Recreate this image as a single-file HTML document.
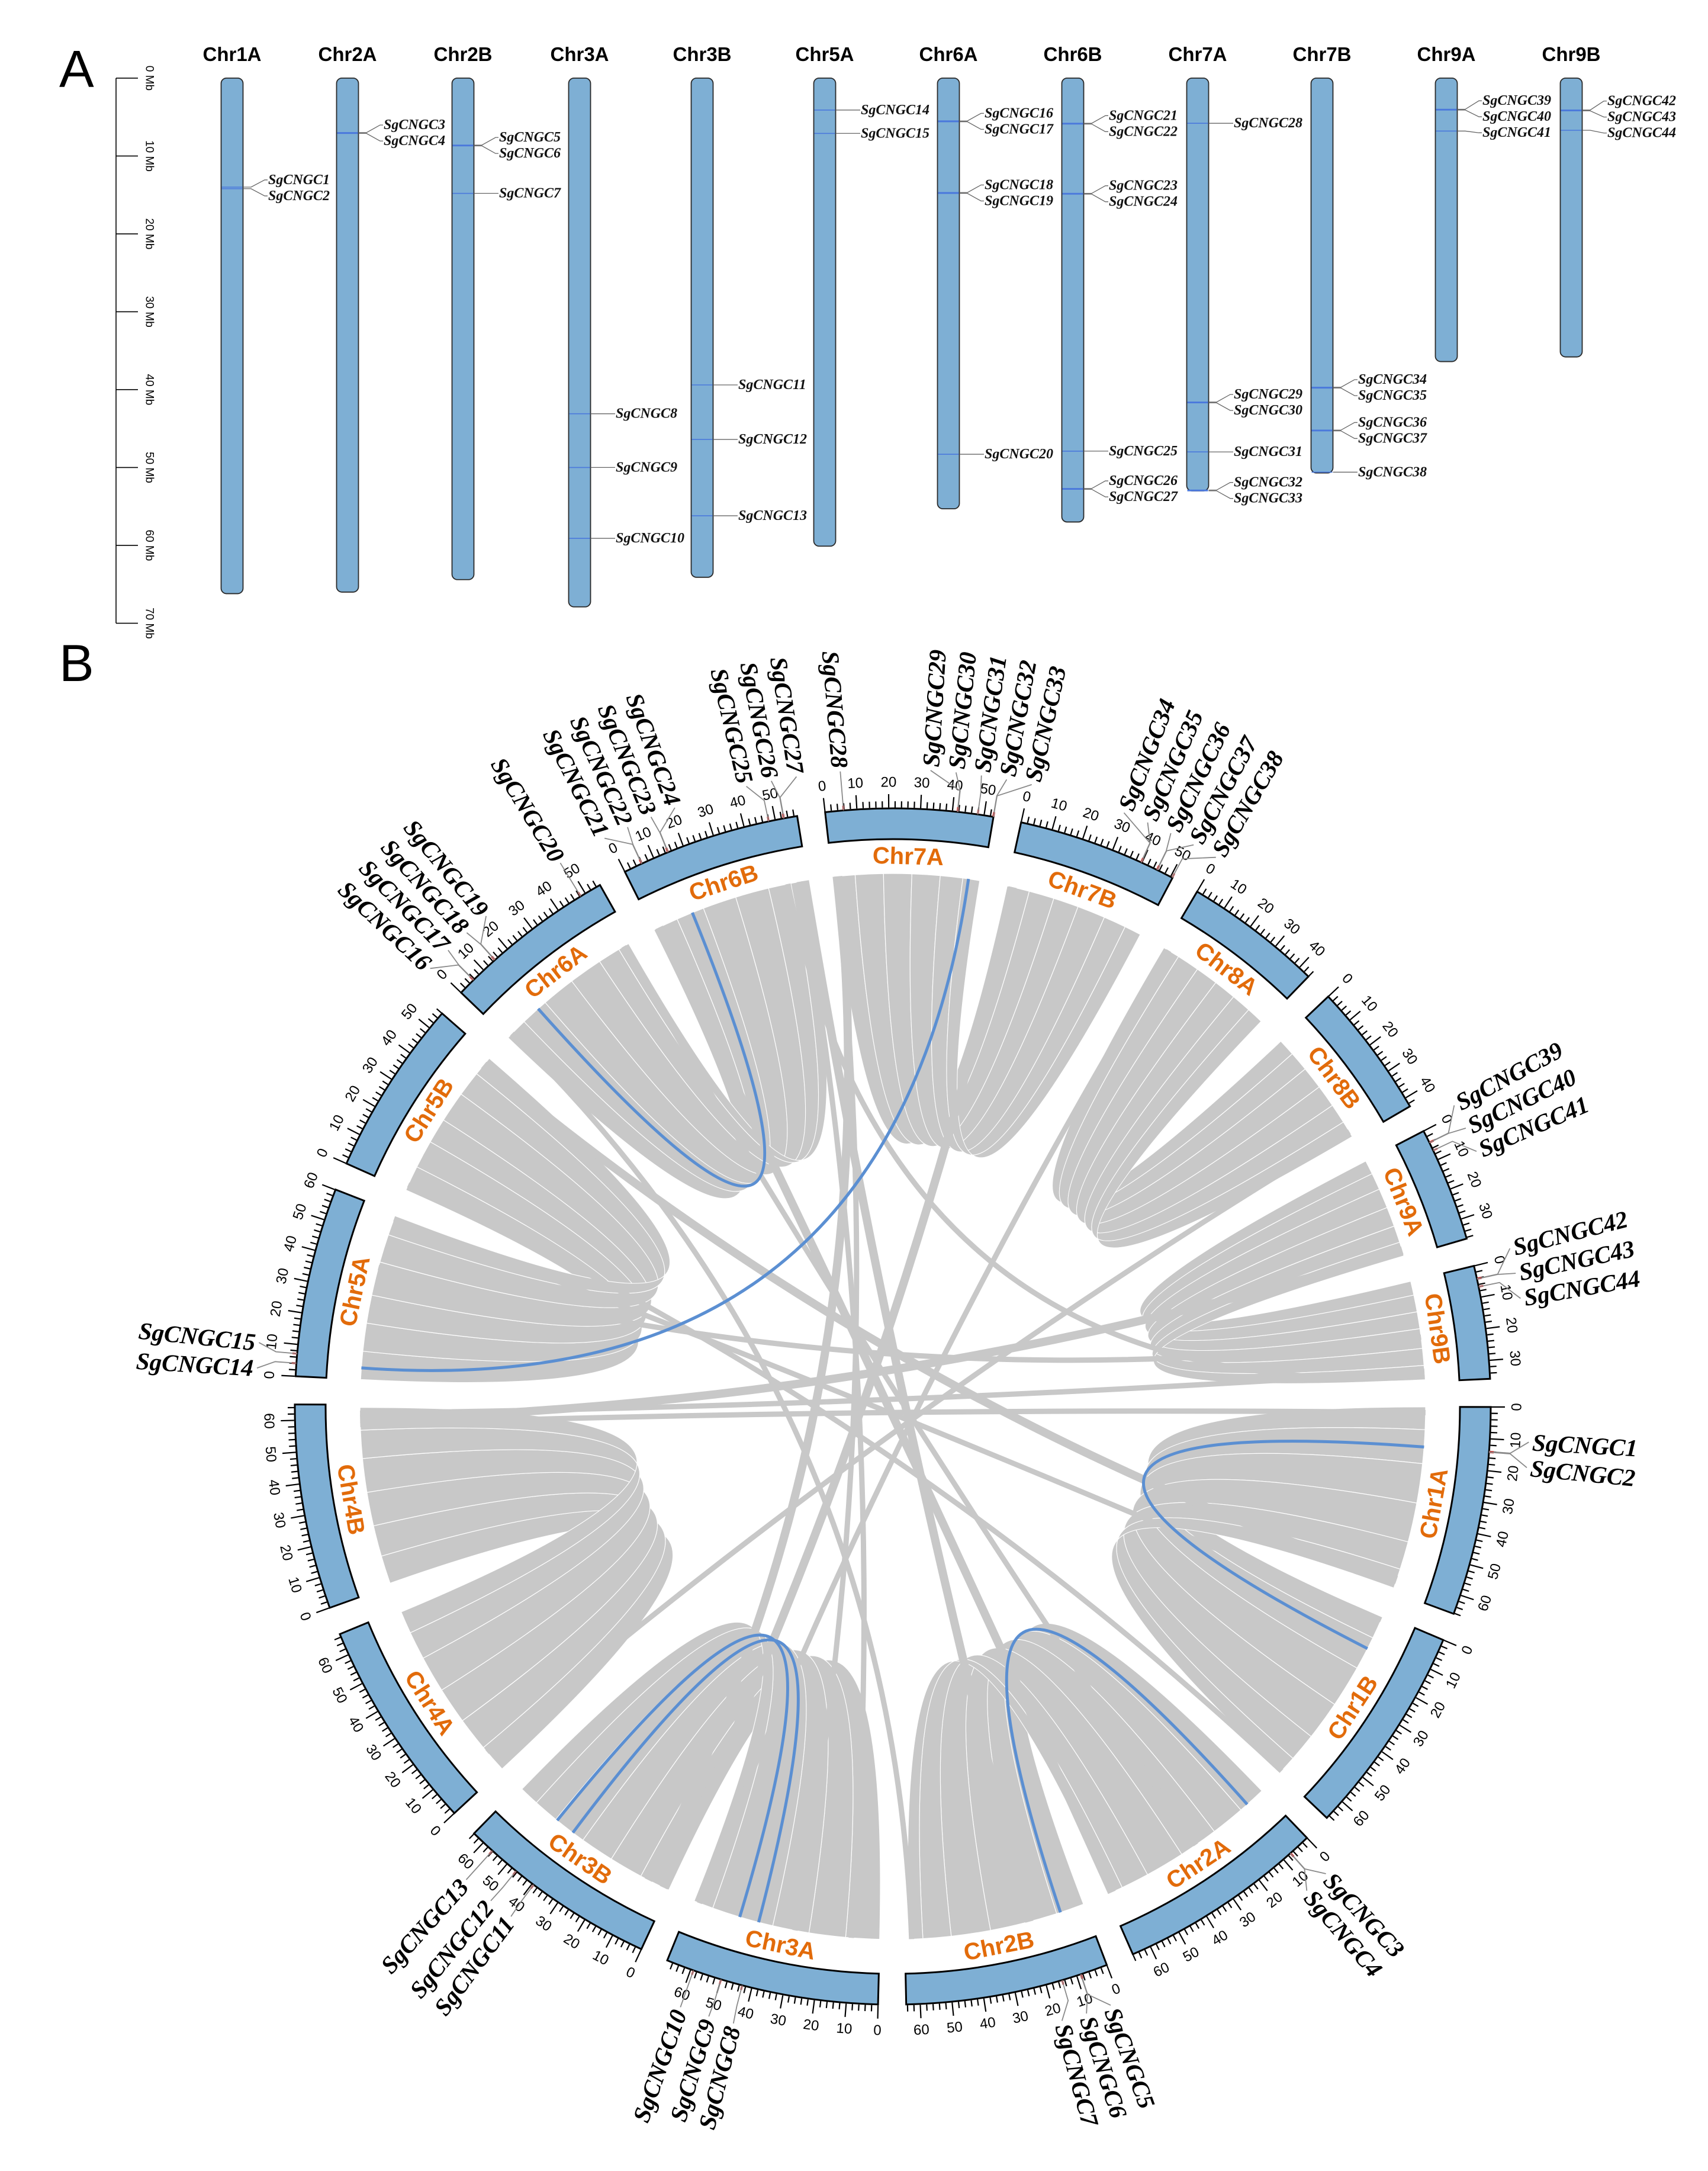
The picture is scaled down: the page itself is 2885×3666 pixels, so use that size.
<!DOCTYPE html>
<html><head><meta charset="utf-8"><title>CNGC chromosome distribution and synteny</title>
<style>
html,body{margin:0;padding:0;background:#fff;}
svg{display:block;}
</style></head>
<body>
<svg id="fig" width="2885" height="3666" viewBox="0 0 2885 3666" xmlns="http://www.w3.org/2000/svg">
<rect width="2885" height="3666" fill="#ffffff"/>
<text x="100" y="147" font-family="'Liberation Sans', sans-serif" font-size="88" fill="#000">A</text>
<text x="100" y="1150" font-family="'Liberation Sans', sans-serif" font-size="88" fill="#000">B</text>
<g id="panelA"></g>
<g id="panelB"></g>
</svg>
<script>
const NS = 'http://www.w3.org/2000/svg';

// ---------- Panel A data ----------
const mapChroms = ['Chr1A','Chr2A','Chr2B','Chr3A','Chr3B','Chr5A','Chr6A','Chr6B','Chr7A','Chr7B','Chr9A','Chr9B'];
const mapLengths = [66.2,66.0,64.4,67.9,64.1,60.1,55.3,57.0,53.0,50.7,36.4,35.8];
const axisTicks = [0,10,20,30,40,50,60,70];

// ---------- Gene data (shared) ----------
const geneNames = ['SgCNGC1','SgCNGC2','SgCNGC3','SgCNGC4','SgCNGC5','SgCNGC6','SgCNGC7','SgCNGC8','SgCNGC9','SgCNGC10','SgCNGC11','SgCNGC12','SgCNGC13','SgCNGC14','SgCNGC15','SgCNGC16','SgCNGC17','SgCNGC18','SgCNGC19','SgCNGC20','SgCNGC21','SgCNGC22','SgCNGC23','SgCNGC24','SgCNGC25','SgCNGC26','SgCNGC27','SgCNGC28','SgCNGC29','SgCNGC30','SgCNGC31','SgCNGC32','SgCNGC33','SgCNGC34','SgCNGC35','SgCNGC36','SgCNGC37','SgCNGC38','SgCNGC39','SgCNGC40','SgCNGC41','SgCNGC42','SgCNGC43','SgCNGC44'];
const geneChrom = ['Chr1A','Chr1A','Chr2A','Chr2A','Chr2B','Chr2B','Chr2B','Chr3A','Chr3A','Chr3A','Chr3B','Chr3B','Chr3B','Chr5A','Chr5A','Chr6A','Chr6A','Chr6A','Chr6A','Chr6A','Chr6B','Chr6B','Chr6B','Chr6B','Chr6B','Chr6B','Chr6B','Chr7A','Chr7A','Chr7A','Chr7A','Chr7A','Chr7A','Chr7B','Chr7B','Chr7B','Chr7B','Chr7B','Chr9A','Chr9A','Chr9A','Chr9B','Chr9B','Chr9B'];
const genePos = [14.0,14.2,7.0,7.1,8.6,8.7,14.8,43.1,50.0,59.1,39.4,46.4,56.2,4.1,7.1,5.5,5.6,14.7,14.8,48.3,5.8,5.9,14.8,14.9,47.9,52.7,52.8,5.8,41.6,41.7,48.0,52.9,53.0,39.7,39.8,45.2,45.3,50.6,4.0,4.1,6.8,4.1,4.2,6.7];

// ---------- Panel B data ----------
const circChroms = ['Chr7A','Chr7B','Chr8A','Chr8B','Chr9A','Chr9B','Chr1A','Chr1B','Chr2A','Chr2B','Chr3A','Chr3B','Chr4A','Chr4B','Chr5A','Chr5B','Chr6A','Chr6B'];
const circLengths = [53.0,50.7,44.0,43.0,36.4,35.8,66.2,67.0,66.0,64.4,67.9,64.1,67.0,65.0,60.1,56.0,55.3,57.0];

const synPairA = ['Chr1A','Chr2A','Chr3A','Chr4A','Chr5A','Chr6A','Chr7A','Chr8A','Chr9A'];
const synPairB = ['Chr1B','Chr2B','Chr3B','Chr4B','Chr5B','Chr6B','Chr7B','Chr8B','Chr9B'];
const synBreaksA = [[0,8,20,34,48,58,65],[0,10,22,36,50,60,65],[0,12,25,38,50,60,67],[0,10,22,35,48,58,66],[0,10,20,30,42,52,59],[0,8,18,30,42,50,54],[0,8,18,28,38,46,52],[0,6,14,22,30,37,43],[0,5,11,18,25,31,36]];
const synBreaksB = [[1,9,21,36,50,60,66],[0,10,21,34,48,58,63],[0,11,23,35,47,56,63],[1,11,22,34,46,56,64],[0,9,19,28,39,48,55],[0,9,19,31,43,51,56],[0,8,17,26,36,44,50],[0,6,13,21,29,36,42],[0,5,11,17,24,30,35]];

const thinChrA = ['Chr6B','Chr6B','Chr6A','Chr7A','Chr7A','Chr6B','Chr5B','Chr5A','Chr4B','Chr4B','Chr4B','Chr4A','Chr3B','Chr3A','Chr2B','Chr2A','Chr1B','Chr5A'];
const thinPosA = [56,54,52,2,1,50,52,58,62,60,58,8,2,65,62,64,66,40];
const thinChrB = ['Chr2B','Chr3A','Chr2A','Chr3B','Chr3A','Chr9B','Chr1A','Chr1B','Chr9B','Chr9A','Chr1A','Chr8B','Chr7B','Chr8A','Chr6A','Chr6B','Chr5B','Chr9B'];
const thinPosB = [20,10,30,8,30,34,62,2,32,34,2,40,2,2,2,2,2,20];

const blueChrA = ['Chr5A','Chr6A','Chr1A','Chr2A','Chr3A','Chr3A'];
const bluePosA = [4.1,14.7,14.1,7.0,43.1,50.0];
const blueChrB = ['Chr7A','Chr6B','Chr1B','Chr2B','Chr3B','Chr3B'];
const bluePosB = [48.0,14.8,13.2,8.6,39.4,46.4];

// ---------- helpers ----------
function mk(tag, attrs, parent){
  const e = document.createElementNS(NS, tag);
  for (const k in attrs) e.setAttribute(k, attrs[k]);
  if (parent) parent.appendChild(e);
  return e;
}
const SANS = "'Liberation Sans', sans-serif";
const SERIF = "'Liberation Serif', serif";

// ================= PANEL A =================
const gA = document.getElementById('panelA');
const Y0 = 131.9, PXMB = 13.15;
const mapX = [392,587,782,979,1186,1393,1602,1812,2023,2233,2443,2654];
const CW = 37;
function yMb(v){ return Y0 + v * PXMB; }

const axis = mk('line', {x1:196, y1:yMb(0), x2:196, y2:yMb(70), stroke:'#000', 'stroke-width':1.6}, gA);


axisTicks.forEach(t => {
  const tk = mk('line', {x1:196, y1:yMb(t), x2:233, y2:yMb(t), stroke:'#000', 'stroke-width':1.6}, gA);
  
  
  const tl = mk('text', {x:0, y:0, transform:`translate(252,${yMb(t)}) rotate(90)`, 'text-anchor':'middle', 'dominant-baseline':'central', 'font-family':SANS, 'font-size':19, fill:'#000'}, gA);
  tl.textContent = t + ' Mb';
  
  
});

mapChroms.forEach((c, i) => {
  const cx = mapX[i];
  const title = mk('text', {x:cx, y:103, 'text-anchor':'middle', 'font-family':SANS, 'font-size':33, 'font-weight':'bold', fill:'#000'}, gA);
  title.textContent = c;
  
  
  const bar = mk('rect', {x:cx-CW/2, y:yMb(0), width:CW, height:mapLengths[i]*PXMB, rx:9, ry:9, fill:'#7eafd4', stroke:'#2a2a2a', 'stroke-width':1.8}, gA);
  
  

  const idx = [];
  geneChrom.forEach((gc, j) => { if (gc === c) idx.push(j); });
  idx.sort((a,b) => genePos[a]-genePos[b]);
  const ys = idx.map(j => yMb(genePos[j]));
  const ly = ys.slice();
  const GAP = 27;
  for (let it=0; it<80; it++){
    for (let k=1; k<ly.length; k++){
      const d = ly[k]-ly[k-1];
      if (d < GAP){ const s=(GAP-d)/2; ly[k-1]-=s; ly[k]+=s; }
    }
  }
  idx.forEach((j, k) => {
    const y = ys[k], yl = ly[k];
    const mark = mk('line', {x1:cx-CW/2+1, y1:y, x2:cx+CW/2-1, y2:y, stroke:'#4a78dc', 'stroke-width':1.6}, gA);
    
    
    const con = mk('polyline', {points:`${cx+CW/2},${y} ${cx+32},${y} ${cx+55},${yl} ${cx+60},${yl}`, fill:'none', stroke:'#666', 'stroke-width':1.3}, gA);
    
    
    const lab = mk('text', {x:cx+61, y:yl, 'dominant-baseline':'central', 'font-family':SERIF, 'font-size':24, 'font-style':'italic', 'font-weight':'bold', fill:'#111'}, gA);
    lab.textContent = geneNames[j];
    
    
  });
});

// ================= PANEL B =================
const gB = document.getElementById('panelB');
const CX = 1508, CY = 2375, R_OUT = 1010, R_IN = 958, R_LINK = 900;
const START = -6.5, GAPDEG = 2.7;
const totalLen = circLengths.reduce((a,b)=>a+b,0);
const K = (360 - GAPDEG*circChroms.length) / totalLen;
const chrStart = {};
let acc = START;
circChroms.forEach((c,i) => { chrStart[c] = acc; acc += circLengths[i]*K + GAPDEG; });
function ang(c, pos){ return chrStart[c] + pos*K; }
function pt(theta, r){ const t = theta*Math.PI/180; return [CX + r*Math.sin(t), CY - r*Math.cos(t)]; }
function f(p){ return p[0].toFixed(1)+' '+p[1].toFixed(1); }
function norm(a){ return ((a%360)+360)%360; }

const gLinks = mk('g', {}, gB);


const gIdeo = mk('g', {}, gB);



synPairA.forEach((ca, p) => {
  const cb = synPairB[p];
  const ba = synBreaksA[p], bb = synBreaksB[p];
  for (let s=0; s<ba.length-1; s++){
    const a1 = ang(ca, ba[s]), a2 = ang(ca, ba[s+1]);
    const b1 = ang(cb, bb[s]), b2 = ang(cb, bb[s+1]);
    const d = `M ${f(pt(a1,R_LINK))} A ${R_LINK} ${R_LINK} 0 0 1 ${f(pt(a2,R_LINK))} Q ${CX} ${CY} ${f(pt(b2,R_LINK))} A ${R_LINK} ${R_LINK} 0 0 0 ${f(pt(b1,R_LINK))} Q ${CX} ${CY} ${f(pt(a1,R_LINK))} Z`;
    const rib = mk('path', {d:d, fill:'#c8c8c8', stroke:'#ffffff', 'stroke-width':1.2}, gLinks);
    
    
  }
});

thinChrA.forEach((ca, i) => {
  const a = ang(ca, thinPosA[i]), b = ang(thinChrB[i], thinPosB[i]);
  const ln = mk('path', {d:`M ${f(pt(a,R_LINK))} Q ${CX} ${CY} ${f(pt(b,R_LINK))}`, fill:'none', stroke:'#c8c8c8', 'stroke-width': (i%3===0?14:9)}, gLinks);
  
  
});

blueChrA.forEach((ca, i) => {
  const a = ang(ca, bluePosA[i]), b = ang(blueChrB[i], bluePosB[i]);
  const ln = mk('path', {d:`M ${f(pt(a,R_LINK))} Q ${CX} ${CY} ${f(pt(b,R_LINK))}`, fill:'none', stroke:'#5b8fd2', 'stroke-width':5}, gLinks);
  
  
});

circChroms.forEach((c, i) => {
  const s = chrStart[c], e = s + circLengths[i]*K;
  const d = `M ${f(pt(s,R_OUT))} A ${R_OUT} ${R_OUT} 0 0 1 ${f(pt(e,R_OUT))} L ${f(pt(e,R_IN))} A ${R_IN} ${R_IN} 0 0 0 ${f(pt(s,R_IN))} Z`;
  const band = mk('path', {d:d, fill:'#7eafd4', stroke:'#000', 'stroke-width':3}, gIdeo);
  
  

  for (let m=0; m<=circLengths[i]; m+=2){
    const th = ang(c, m);
    const major = (m % 10 === 0);
    const p1 = pt(th, R_OUT+1.5), p2 = pt(th, R_OUT + (major?24:12));
    const tk = mk('line', {x1:p1[0], y1:p1[1], x2:p2[0], y2:p2[1], stroke:'#000', 'stroke-width':2.2}, gIdeo);
    
    
    if (major){
      const pl = pt(th, R_OUT + 44);
      const n = norm(th);
      const rot = (n>90 && n<270) ? n-180 : n;
      const tl = mk('text', {x:0, y:0, transform:`translate(${pl[0].toFixed(1)},${pl[1].toFixed(1)}) rotate(${rot.toFixed(2)})`, 'text-anchor':'middle', 'dominant-baseline':'central', 'font-family':SANS, 'font-size':24, fill:'#000'}, gIdeo);
      tl.textContent = String(m);
      
      
    }
  }
  const mid = (s+e)/2;
  const pn = pt(mid, 929);
  const nm = norm(mid);
  const rotN = (nm>90 && nm<270) ? nm-180 : nm;
  const name = mk('text', {x:0, y:0, transform:`translate(${pn[0].toFixed(1)},${pn[1].toFixed(1)}) rotate(${rotN.toFixed(2)})`, 'text-anchor':'middle', 'dominant-baseline':'central', 'font-family':SANS, 'font-size':40, 'font-weight':'bold', fill:'#e26b0a'}, gIdeo);
  name.textContent = c;
  
  
});

const gGenes = mk('g', {}, gB);


const order = geneNames.map((_,j)=>j).sort((a,b)=>ang(geneChrom[a],genePos[a]) - ang(geneChrom[b],genePos[b]));
const gth = order.map(j => ang(geneChrom[j], genePos[j]));
const lth = gth.slice();
const SEP = 2.3;
for (let it=0; it<200; it++){
  for (let k=1; k<lth.length; k++){
    const d = lth[k]-lth[k-1];
    if (d < SEP){ const s=(SEP-d)/2; lth[k-1]-=s; lth[k]+=s; }
  }
}
order.forEach((j, k) => {
  const tg = gth[k], tl = lth[k];
  const m1 = pt(tg, R_OUT+1), m2 = pt(tg, R_OUT+8);
  const red = mk('line', {x1:m1[0], y1:m1[1], x2:m2[0], y2:m2[1], stroke:'#e02020', 'stroke-width':3}, gGenes);
  
  
  const q1 = pt(tg, R_OUT), q2 = pt(tg, R_OUT+36), q3 = pt(tl, R_OUT+66);
  const con = mk('polyline', {points:`${f(q1)} ${f(q2)} ${f(q3)}`, fill:'none', stroke:'#8a8a8a', 'stroke-width':1.8}, gGenes);
  
  
  const n = norm(tl);
  const pl = pt(tl, R_OUT+72);
  let rot, anchor;
  if (n < 180){ rot = n-90; anchor = 'start'; } else { rot = n+90; anchor = 'end'; }
  const lab = mk('text', {x:0, y:0, transform:`translate(${pl[0].toFixed(1)},${pl[1].toFixed(1)}) rotate(${rot.toFixed(2)})`, 'text-anchor':anchor, 'dominant-baseline':'central', 'font-family':SERIF, 'font-size':41, 'font-style':'italic', 'font-weight':'bold', fill:'#000'}, gGenes);
  lab.textContent = geneNames[j];
  
  
});
</script>
</body></html>
